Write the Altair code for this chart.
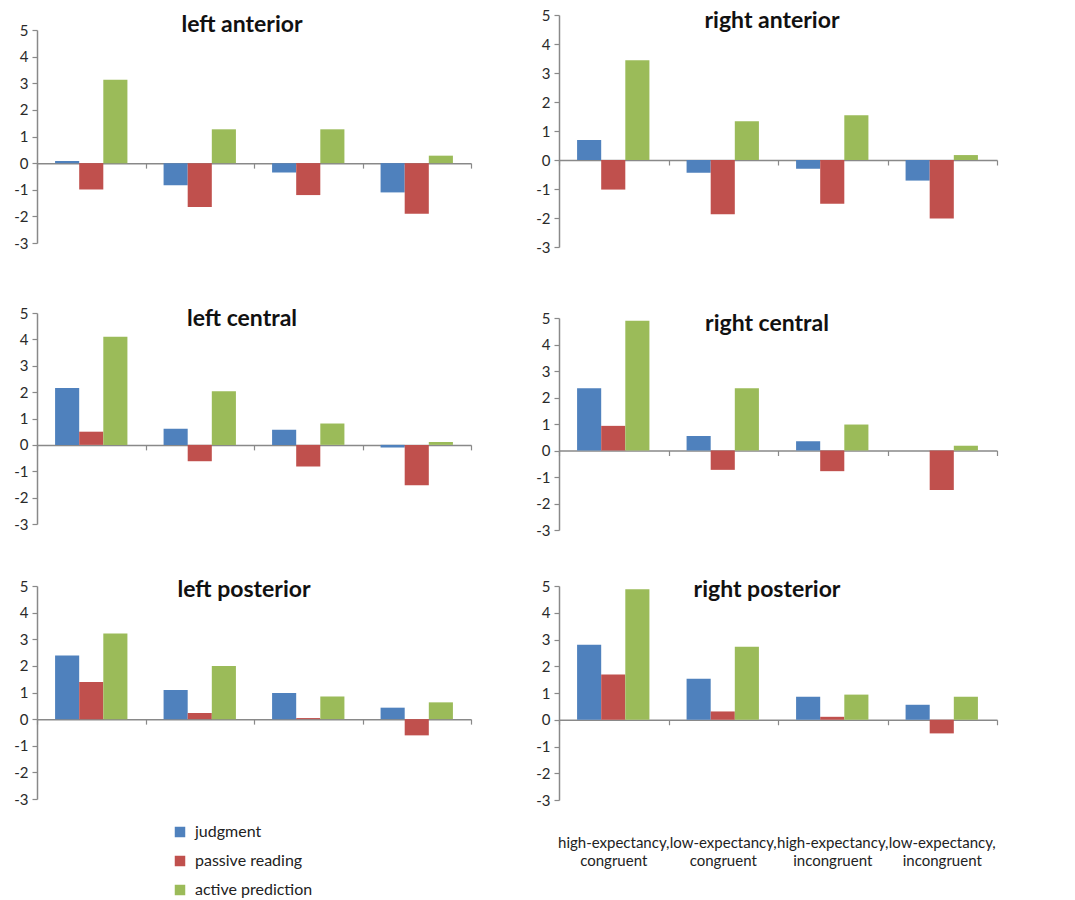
import altair as alt
import pandas as pd

# Conditions (x groups) and the three tasks (series)
categories = [
    "high-expectancy, congruent",
    "low-expectancy, congruent",
    "high-expectancy, incongruent",
    "low-expectancy, incongruent",
]
conditions = ["judgment", "passive reading", "active prediction"]
colors = ["#4F81BD", "#C0504D", "#9BBB59"]

# Mean amplitude per scalp region, one list per task (4 conditions each)
judgment = {
    "left anterior": [0.08, -0.83, -0.35, -1.10],
    "right anterior": [0.69, -0.44, -0.30, -0.71],
    "left central": [2.16, 0.61, 0.57, -0.10],
    "right central": [2.35, 0.55, 0.35, 0.0],
    "left posterior": [2.39, 1.09, 0.98, 0.43],
    "right posterior": [2.80, 1.53, 0.86, 0.56],
}
passive_reading = {
    "left anterior": [-0.99, -1.65, -1.20, -1.90],
    "right anterior": [-1.02, -1.87, -1.51, -2.02],
    "left central": [0.50, -0.62, -0.82, -1.53],
    "right central": [0.93, -0.73, -0.78, -1.49],
    "left posterior": [1.39, 0.23, 0.04, -0.61],
    "right posterior": [1.69, 0.31, 0.11, -0.51],
}
active_prediction = {
    "left anterior": [3.13, 1.27, 1.27, 0.28],
    "right anterior": [3.44, 1.34, 1.54, 0.17],
    "left central": [4.10, 2.03, 0.81, 0.11],
    "right central": [4.90, 2.35, 0.98, 0.18],
    "left posterior": [3.22, 2.00, 0.85, 0.63],
    "right posterior": [4.88, 2.73, 0.94, 0.86],
}
series = dict(zip(conditions, [judgment, passive_reading, active_prediction]))

FONT = "Lato"
AXIS_GREY = "#898989"


def region_frame(region):
    rows = []
    for cond in conditions:
        for cat, val in zip(categories, series[cond][region]):
            rows.append({"region": region, "category": cat, "condition": cond, "value": val})
    return pd.DataFrame(rows)


def panel(region, width, height, title_x, title_y, show_categories=False):
    x_axis = alt.Axis(
        title=None, labels=False, tickBand="extent", tickSize=5,
        tickColor=AXIS_GREY, domainColor=AXIS_GREY, domainWidth=1.5, tickWidth=1.2,
        offset=-(height * 3 / 8),
    )
    y_axis = alt.Axis(
        title=None, values=list(range(-3, 6)), tickSize=5, tickColor=AXIS_GREY,
        domainColor=AXIS_GREY, domainWidth=1.5, tickWidth=1.2, labelPadding=4,
        labelFontSize=15, labelColor="#2a2a2a", labelFont=FONT, grid=False,
        labelOverlap=False,
        labelExpr="datum.value < 0 ? '-' + abs(datum.value) : '' + datum.value",
    )
    x_scale = alt.Scale(paddingInner=0, paddingOuter=0)
    y_scale = alt.Scale(domain=[-3, 5], nice=False, zero=True)
    bars = alt.Chart(region_frame(region)).mark_bar().encode(
        x=alt.X("category:N", sort=categories, scale=x_scale, axis=x_axis),
        xOffset=alt.XOffset("condition:N", sort=conditions,
                            scale=alt.Scale(paddingInner=0, paddingOuter=0.75)),
        y=alt.Y("value:Q", scale=y_scale, axis=y_axis),
        color=alt.Color(
            "condition:N", sort=conditions,
            scale=alt.Scale(domain=conditions, range=colors),
            legend=alt.Legend(
                title=None, orient="none", legendX=135, legendY=809,
                direction="vertical", symbolType="square", symbolSize=110,
                symbolStrokeWidth=0, labelFont=FONT, labelFontSize=16,
                labelColor="#222222", labelOffset=7, rowPadding=13,
            ),
        ),
    )
    title = alt.Chart(pd.DataFrame({"t": [region]})).mark_text(
        font=FONT, fontSize=23, fontWeight="bold", color="#111111",
        align="center", baseline="alphabetic",
    ).encode(x=alt.value(title_x), y=alt.value(title_y), text="t:N")
    layers = [bars, title]
    if show_categories:
        labels = pd.DataFrame({
            "category": categories,
            "label": [c.replace(", ", ",\n") for c in categories],
        })
        cat_text = alt.Chart(labels).mark_text(
            font=FONT, fontSize=15, color="#222222", align="center",
            baseline="top", lineBreak="\n", lineHeight=18, dy=36,
        ).encode(
            x=alt.X("category:N", sort=categories, scale=x_scale, axis=x_axis),
            y=alt.YDatum(-3, scale=y_scale, axis=y_axis),
            text="label:N",
        )
        layers.append(cat_text)
    return alt.layer(*layers).properties(width=width, height=height)


def spacer(width, height):
    return alt.Chart(pd.DataFrame({"z": [0]})).mark_point(opacity=0).properties(
        width=width, height=height
    )


LW, RW = 434, 438

left_col = alt.vconcat(
    spacer(LW, 15),
    panel("left anterior", LW, 213, 205, 2),
    spacer(LW, 70),
    panel("left central", LW, 211, 205, 13),
    spacer(LW, 62),
    panel("left posterior", LW, 213, 207, 11),
    spacing=0, bounds="flush",
)
right_col = alt.vconcat(
    panel("right anterior", RW, 232, 213, 13),
    spacer(RW, 71),
    panel("right central", RW, 212, 208, 13),
    spacer(RW, 56),
    panel("right posterior", RW, 214, 208, 11, show_categories=True),
    spacing=0, bounds="flush",
)

chart = alt.hconcat(left_col, right_col, spacing=63).properties(
    padding={"left": 13, "top": 8, "right": 5, "bottom": 5},
).configure(font=FONT).configure_view(stroke=None)

chart.save("out.html", embed_options={"renderer": "svg", "actions": False})
